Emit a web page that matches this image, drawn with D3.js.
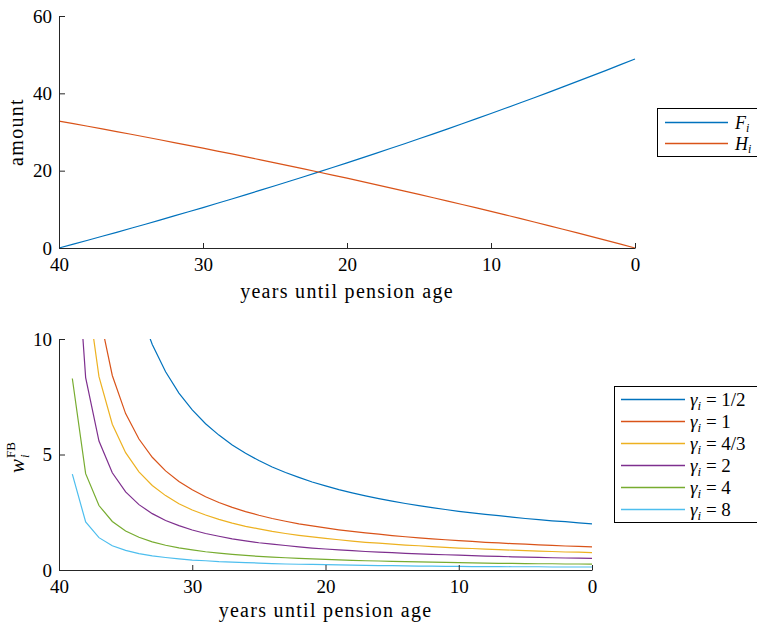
<!DOCTYPE html>
<html>
<head>
<meta charset="utf-8">
<script src="https://cdn.jsdelivr.net/npm/d3@7"></script>
<style>
  svg text { font-family: "Liberation Serif" !important; }
</style>
</head>
<body style="margin:0">
<svg id="chart" width="757" height="629"></svg>
<script>
// years until pension age (top panel, 40 -> 0)
const yearsTop = [40, 39, 38, 37, 36, 35, 34, 33, 32, 31, 30, 29, 28, 27, 26, 25, 24, 23, 22, 21,
  20, 19, 18, 17, 16, 15, 14, 13, 12, 11, 10, 9, 8, 7, 6, 5, 4, 3, 2, 1, 0];
const valuesF = [0, 1.00, 2.01, 3.03, 4.06, 5.10, 6.15, 7.21, 8.29, 9.37, 10.46, 11.57, 12.68, 13.81,
  14.95, 16.10, 17.26, 18.43, 19.61, 20.81, 22.02, 23.24, 24.47, 25.72, 26.97, 28.24, 29.53, 30.82,
  32.13, 33.45, 34.78, 36.13, 37.49, 38.87, 40.26, 41.66, 43.08, 44.51, 45.95, 47.41, 48.89];
const valuesH = [32.83, 32.16, 31.48, 30.80, 30.11, 29.41, 28.70, 27.99, 27.27, 26.54, 25.81, 25.07,
  24.32, 23.56, 22.80, 22.02, 21.24, 20.46, 19.66, 18.86, 18.05, 17.23, 16.40, 15.56, 14.72, 13.87,
  13.00, 12.13, 11.26, 10.37, 9.47, 8.57, 7.65, 6.73, 5.80, 4.85, 3.90, 2.94, 1.97, 0.99, 0];

// bottom panel, 39 -> 0
const yearsBottom = [39, 38, 37, 36, 35, 34, 33, 32, 31, 30, 29, 28, 27, 26, 25, 24, 23, 22, 21, 20,
  19, 18, 17, 16, 15, 14, 13, 12, 11, 10, 9, 8, 7, 6, 5, 4, 3, 2, 1, 0];
const wGammaHalf = [66.32, 33.32, 22.33, 16.83, 13.53, 11.33, 9.76, 8.58, 7.66, 6.93, 6.33, 5.84, 5.41,
  5.05, 4.74, 4.46, 4.22, 4.01, 3.81, 3.64, 3.48, 3.34, 3.21, 3.09, 2.98, 2.88, 2.79, 2.70, 2.62, 2.54,
  2.47, 2.41, 2.35, 2.29, 2.23, 2.18, 2.13, 2.09, 2.04, 2.00];
const wGamma1 = [33.16, 16.66, 11.17, 8.42, 6.77, 5.67, 4.88, 4.29, 3.83, 3.47, 3.17, 2.92, 2.71, 2.53,
  2.37, 2.23, 2.11, 2.00, 1.91, 1.82, 1.74, 1.67, 1.61, 1.55, 1.49, 1.44, 1.39, 1.35, 1.31, 1.27, 1.24,
  1.20, 1.17, 1.14, 1.12, 1.09, 1.07, 1.04, 1.02, 1.00];
const wGamma43 = [24.87, 12.50, 8.37, 6.31, 5.08, 4.25, 3.66, 3.22, 2.87, 2.60, 2.38, 2.19, 2.03, 1.89,
  1.78, 1.67, 1.58, 1.50, 1.43, 1.37, 1.31, 1.25, 1.20, 1.16, 1.12, 1.08, 1.05, 1.01, 0.98, 0.95, 0.93,
  0.90, 0.88, 0.86, 0.84, 0.82, 0.80, 0.78, 0.77, 0.75];
const wGamma2 = [16.58, 8.33, 5.58, 4.21, 3.38, 2.83, 2.44, 2.14, 1.92, 1.73, 1.58, 1.46, 1.35, 1.26,
  1.18, 1.12, 1.06, 1.00, 0.95, 0.91, 0.87, 0.84, 0.80, 0.77, 0.75, 0.72, 0.70, 0.68, 0.66, 0.64, 0.62,
  0.60, 0.59, 0.57, 0.56, 0.55, 0.53, 0.52, 0.51, 0.50];
const wGamma4 = [8.29, 4.17, 2.79, 2.10, 1.69, 1.42, 1.22, 1.07, 0.96, 0.87, 0.79, 0.73, 0.68, 0.63,
  0.59, 0.56, 0.53, 0.50, 0.48, 0.46, 0.44, 0.42, 0.40, 0.39, 0.37, 0.36, 0.35, 0.34, 0.33, 0.32, 0.31,
  0.30, 0.29, 0.29, 0.28, 0.27, 0.27, 0.26, 0.26, 0.25];
const wGamma8 = [4.15, 2.08, 1.40, 1.05, 0.85, 0.71, 0.61, 0.54, 0.48, 0.43, 0.40, 0.36, 0.34, 0.32,
  0.30, 0.28, 0.26, 0.25, 0.24, 0.23, 0.22, 0.21, 0.20, 0.19, 0.19, 0.18, 0.17, 0.17, 0.16, 0.16, 0.15,
  0.15, 0.15, 0.14, 0.14, 0.14, 0.13, 0.13, 0.13, 0.13];

const gammaLabels = ["1/2", "1", "4/3", "2", "4", "8"];
const xTicks = [40, 30, 20, 10, 0];
const yTicksTop = [0, 20, 40, 60];
const yTicksBottom = [0, 5, 10];

const colors = ["#0072BD", "#D95319", "#EDB120", "#7E2F8E", "#77AC30", "#4DBEEE"];
const axisColor = "#262626";
const serif = "Liberation Serif";

const svg = d3.select("#chart");

// axes helper, MATLAB style ticks pointing inward
function drawAxes(x, y, yTicks) {
  svg.append("g")
    .attr("transform", `translate(0,${y.range()[0]})`)
    .call(d3.axisBottom(x).tickValues(xTicks).tickSizeInner(-5).tickSizeOuter(0).tickPadding(10))
    .attr("font-family", serif).attr("font-size", 19)
    .call(g => g.selectAll("path, line").attr("stroke", axisColor))
    .call(g => g.selectAll("text").attr("font-family", serif).attr("fill", "#000"));
  svg.append("g")
    .attr("transform", `translate(${x.range()[0]},0)`)
    .call(d3.axisLeft(y).tickValues(yTicks).tickSizeInner(-6).tickSizeOuter(0).tickPadding(7))
    .attr("font-family", serif).attr("font-size", 19)
    .call(g => g.selectAll("path, line").attr("stroke", axisColor))
    .call(g => g.selectAll("text").attr("font-family", serif).attr("fill", "#000"));
}

function label(sel) {
  return sel.append("text")
    .attr("font-family", serif)
    .attr("text-anchor", "middle")
    .attr("font-size", 20)
    .attr("letter-spacing", 1.3);
}

// ---------- top panel ----------
const x1 = d3.scaleLinear().domain([40, 0]).range([59, 635]);
const y1 = d3.scaleLinear().domain([0, 60]).range([248, 16]);

const line1 = d3.line().x(d => x1(d[0])).y(d => y1(d[1]));
[valuesF, valuesH].forEach((vals, i) => {
  svg.append("path")
    .datum(yearsTop.map((t, j) => [t, vals[j]]))
    .attr("fill", "none")
    .attr("stroke", colors[i])
    .attr("stroke-width", 1.2)
    .attr("d", line1);
});
drawAxes(x1, y1, yTicksTop);

label(svg).attr("x", 347).attr("y", 298).text("years until pension age");
label(svg).attr("transform", "translate(23,132) rotate(-90)").text("amount");

// top legend
const leg1 = svg.append("g");
leg1.append("rect")
  .attr("x", 657.5).attr("y", 108.5).attr("width", 120).attr("height", 48)
  .attr("fill", "#fff").attr("stroke", "#000").attr("stroke-width", 1);
["F", "H"].forEach((name, i) => {
  const cy = 122.5 + i * 21;
  leg1.append("line")
    .attr("x1", 665).attr("x2", 728).attr("y1", cy).attr("y2", cy)
    .attr("stroke", colors[i]).attr("stroke-width", 1.3);
  const t = leg1.append("text").attr("font-family", serif)
    .attr("x", 735).attr("y", cy + 6).attr("font-size", 18);
  t.append("tspan").attr("font-style", "italic").text(name);
  t.append("tspan").attr("font-style", "italic").attr("font-size", 12).attr("dy", 3).text("i");
});

// ---------- bottom panel ----------
const x2 = d3.scaleLinear().domain([40, 0]).range([59, 592]);
const y2 = d3.scaleLinear().domain([0, 10]).range([570, 339]);

svg.append("clipPath").attr("id", "clip2")
  .append("rect").attr("x", 59).attr("y", 339).attr("width", 533).attr("height", 231);

const line2 = d3.line().x(d => x2(d[0])).y(d => y2(d[1]));
const seriesW = [wGammaHalf, wGamma1, wGamma43, wGamma2, wGamma4, wGamma8];
seriesW.forEach((vals, i) => {
  svg.append("path")
    .datum(yearsBottom.map((t, j) => [t, vals[j]]))
    .attr("clip-path", "url(#clip2)")
    .attr("fill", "none")
    .attr("stroke", colors[i])
    .attr("stroke-width", 1.2)
    .attr("d", line2);
});
drawAxes(x2, y2, yTicksBottom);

label(svg).attr("x", 325.5).attr("y", 617).text("years until pension age");

// y label w_i^FB
const ylab = svg.append("g").attr("transform", "translate(24,455) rotate(-90)")
  .attr("font-family", serif);
ylab.append("text").attr("x", -18).attr("y", 0).attr("font-size", 21)
  .attr("font-style", "italic").text("w");
ylab.append("text").attr("x", -3).attr("y", -9).attr("font-size", 13).text("FB");
ylab.append("text").attr("x", -3).attr("y", 5).attr("font-size", 13)
  .attr("font-style", "italic").text("i");

// bottom legend
const leg2 = svg.append("g");
leg2.append("rect")
  .attr("x", 614.5).attr("y", 386.5).attr("width", 160).attr("height", 136)
  .attr("fill", "#fff").attr("stroke", "#000").attr("stroke-width", 1);
gammaLabels.forEach((lab, i) => {
  const cy = 399.5 + i * 22;
  leg2.append("line")
    .attr("x1", 621).attr("x2", 685).attr("y1", cy).attr("y2", cy)
    .attr("stroke", colors[i]).attr("stroke-width", 1.3);
  const t = leg2.append("text").attr("font-family", serif)
    .attr("x", 690).attr("y", cy + 6).attr("font-size", 19);
  t.append("tspan").attr("font-style", "italic").text("γ");
  t.append("tspan").attr("font-style", "italic").attr("font-size", 13).attr("dy", 4).text("i");
  t.append("tspan").attr("dy", -4).text(" = " + lab);
});
</script>
</body>
</html>
